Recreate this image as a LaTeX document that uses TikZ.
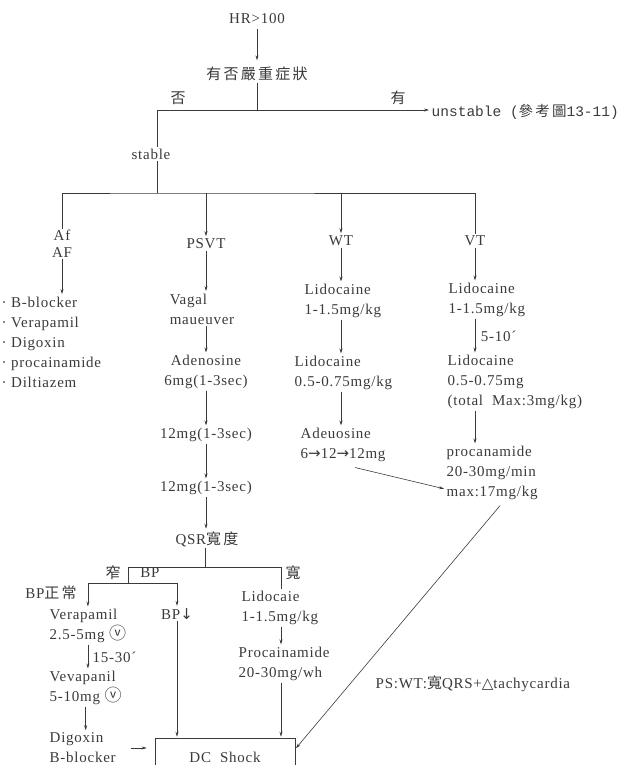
\documentclass[tikz,border=0pt]{standalone}
\usepackage{fontspec}
\setmainfont{Liberation Serif}[LetterSpace=5]
\setmonofont{Liberation Mono}
\newfontfamily\cjk{Noto Sans CJK TC}[LetterSpace=15]
\newfontfamily\symf{DejaVu Sans}
\usetikzlibrary{arrows.meta}
\definecolor{ink}{HTML}{3A3A3A}
\begin{document}
\begin{tikzpicture}[x=1pt,y=-1pt,
  txt/.style={font=\fontsize{15}{20}\selectfont,text=ink,inner sep=1.5pt,align=left},
  cj/.style={font=\fontsize{15}{20}\selectfont\cjk,text=ink,inner sep=1.5pt},
  ln/.style={draw=ink,line width=0.6pt},
  arr/.style={ln,-{Stealth[length=5pt,width=3pt]},shorten >=1pt}]
\clip (0,0) rectangle (637,765);
% top
\node[txt] (HR) at (257,19) {HR>100};
\node[cj] (S) at (257,74) {有否嚴重症狀};
\coordinate (J1) at (257,110);
\node[txt,font=\fontsize{14.5}{18}\ttfamily,anchor=west] (U) at (430,112) {unstable (\cjk 參考圖\ttfamily 13-11)};
\node[cj] (N) at (178,98) {否};
\node[cj] (Y) at (398,98) {有};
\node[txt] (ST) at (151,154) {stable};
\draw[arr,shorten <=3pt,shorten >=5pt] (HR) -- (S);
\draw[ln] (S) -- (J1);
\draw[arr] (J1) -- (U.west |- J1);
\draw[ln] (J1) -| ([xshift=6pt]ST.north);
% second level
\coordinate (J2) at (157,193);
\draw[ln] ([xshift=6pt]ST.south) -- (J2);
\node[txt,align=center,font=\fontsize{15}{17}\selectfont] (AF) at (62,244) {Af\\AF};
\node[txt] (P) at (206,244) {PSVT};
\node[txt] (W) at (341,241) {WT};
\node[txt] (VT) at (475,241) {VT};
\draw[ln] (AF.north) |- (J2) -| (VT.north);
\draw[arr] (P.north |- J2) -- (P.north);
\draw[arr] (W.north |- J2) -- (W.north);
% Af AF
\node[txt,anchor=west] (AFD) at (0,342) {· B-blocker\\· Verapamil\\· Digoxin\\· procainamide\\· Diltiazem};
\draw[arr] (AF.south) -- (AF.south |- AFD.north);
% PSVT
\node[txt] (V) at (202,309) {Vagal\\maueuver};
\node[txt,align=center] (A1) at (206,372) {Adenosine\\6mg(1-3sec)};
\node[txt] (A2) at (206,435) {12mg(1-3sec)};
\node[txt] (A3) at (206,488) {12mg(1-3sec)};
\node[txt] (Q) at (207,539) {QSR{\cjk 寬度}};
\draw[arr] (P.south) -- (P.south |- V.north);
\draw[arr] (V.south -| P) -- (A1.north -| P);
\draw[arr] (A1.south -| P) -- (A2.north -| P);
\draw[arr] (A2.south -| P) -- (A3.north -| P);
\draw[arr] (A3.south -| P) -- (Q.north -| P);
% QRS width split
\coordinate (J3) at (205,567);
\coordinate (J4) at (128,583);
\coordinate (J5) at (281,567);
\node[cj] (NA) at (113,573) {窄};
\node[txt] (BP) at (150,573) {BP};
\node[cj] (WI) at (293,573) {寬};
\node[txt] (BPN) at (51,593) {BP{\cjk 正常}};
\node[txt,anchor=west] (V1) at (48,626) {Verapamil\\2.5-5mg {\cjk\fontsize{17}{20}\selectfont ⓥ}};
\node[txt,anchor=west] (V2) at (48,688) {Vevapanil\\5-10mg {\cjk\fontsize{17}{20}\selectfont ⓥ}};
\node[txt,anchor=west] (D) at (48,748) {Digoxin\\B-blocker};
\node[txt] (B2) at (177,614) {BP{\symf ↓}};
\node[txt,anchor=west] (L1) at (240,608) {Lidocaie\\1-1.5mg/kg};
\node[txt,anchor=west] (L2) at (237,664) {Procainamide\\20-30mg/wh};
\node[txt,draw=ink,line width=0.6pt,minimum width=140pt,minimum height=38pt,align=center] (DC) at (225,757) {DC\ \ Shock};
\draw[ln] (Q.south -| J3) -- (J3);
\draw[ln] (J4) |- (J5) -- (J5 |- L1.north);
\draw[arr] (J4) -| (V1.north);
\draw[arr] (J4) -| (B2.north);
\draw[arr] (V1.south) -- (V1.south |- V2.north) node[txt,midway,right=3pt] (T1) {15-30´};
\draw[arr] (V2.south) -- (V2.south |- D.north);
\draw[arr,shorten <=14pt,shorten >=8pt] (D.east) -- (D.east -| DC.west);
\draw[arr] (B2.south) -- (B2.south |- DC.north);
\draw[arr] (L1.south -| J5) -- (L2.north -| J5);
\draw[arr] (L2.south -| J5) -- (DC.north -| J5);
% WT
\node[txt,anchor=west] (WL1) at (303,301) {Lidocaine\\1-1.5mg/kg};
\node[txt,anchor=west] (WL2) at (293,373) {Lidocaine\\0.5-0.75mg/kg};
\node[txt,anchor=west] (WA) at (299,445) {Adeuosine\\6{\symf →}12{\symf →}12mg};
\draw[arr] (W.south) -- (W.south |- WL1.north);
\draw[arr] (WL1.south -| W) -- (WL2.north -| W);
\draw[arr] (WL2.south -| W) -- (WA.north -| W);
% VT
\node[txt,anchor=west] (VL1) at (447,300) {Lidocaine\\1-1.5mg/kg};
\node[txt,anchor=west] (VL2) at (446,382) {Lidocaine\\0.5-0.75mg\\(total\ \ Max:3mg/kg)};
\node[txt,anchor=west] (VP) at (445,473) {procanamide\\20-30mg/min\\max:17mg/kg};
\draw[arr] (VT.south) -- (VT.south |- VL1.north);
\draw[arr] (VL1.south -| VT) -- (VL2.north -| VT) node[txt,midway,right=4pt] (T2) {5-10´};
\draw[arr] (VL2.south -| VT) -- (VP.north -| VT);
\draw[arr] ([xshift=12pt,yshift=-4pt]WA.south) -- ([yshift=-16pt]VP.west);
\draw[arr] ([xshift=8pt,yshift=-4pt]VP.south) -- ([yshift=8pt]DC.east);
% note
\node[txt,anchor=west] (PS) at (374,684) {PS:WT:{\cjk 寬}QRS+{\symf △}tachycardia};
\end{tikzpicture}
\end{document}
